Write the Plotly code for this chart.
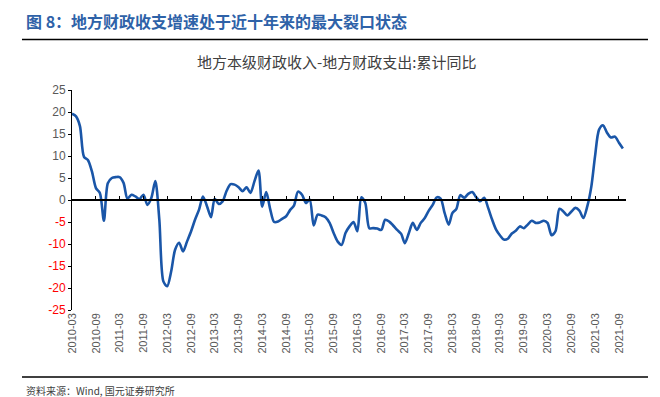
import pandas as pd
import plotly.graph_objects as go

start_month = "2010-03-01"
values = [
    19.6, 19.0, 16.8, 9.8, 9.1, 6.5, 2.7, 1.6, -4.7, 3.8,
    5.0, 5.2, 5.2, 3.9, 0.3, 1.2, 0.8, 0.2, 1.2, -1.1,
    0.5, 4.3, -4.5, -18.5, -19.6, -16.2, -11.3, -9.7, -11.7, -9.4,
    -7.1, -4.5, -2.2, 0.8, -1.4, -3.9, 0.3, -0.9, -0.3, 2.1,
    3.6, 3.5, 2.9, 2.0, 2.9, 1.6, 4.3, 6.7, -1.5, 1.8,
    -2.0, -5.0, -4.9, -4.3, -3.7, -2.3, -1.2, 1.9, 1.2, -0.7,
    0.1, -5.8, -3.3, -3.5, -3.9, -5.2, -7.5, -9.4, -10.2, -7.5,
    -6.0, -5.0, -7.1, 0.6, -0.7, -6.4, -6.4, -6.5, -6.8, -4.5,
    -4.9, -5.8, -6.8, -7.7, -9.8, -7.5, -5.2, -6.8, -5.2, -4.1,
    -2.4, -1.1, 0.6, 0.3, -3.0, -5.6, -3.0, -2.0, 1.1, 0.5,
    1.4, 1.8, 0.6, -0.3, 0.5, -1.8, -4.5, -6.8, -8.0, -9.0,
    -8.8, -7.6, -7.0, -6.0, -6.4, -5.6, -4.7, -5.2, -5.1, -4.7,
    -5.2, -8.0, -7.1, -2.0, -2.6, -3.5, -2.6, -1.8, -2.4, -4.1,
    -1.4, 3.1, 9.9, 16.0, 17.0, 15.3, 14.2, 14.4, 13.0, 11.7,
]
dates = pd.date_range(start_month, periods=len(values), freq="MS")

y_ticks = [25, 20, 15, 10, 5, 0, -5, -10, -15, -20, -25]
y_tick_text = [
    f'<span style="color:#FF0000">{v}</span>' if v < 0 else f'<span style="color:#595959">{v}</span>'
    for v in y_ticks
]

title_text = "图 8：地方财政收支增速处于近十年来的最大裂口状态"
subtitle_text = "地方本级财政收入-地方财政支出:累计同比"
source_text = "资料来源：Wind, 国元证券研究所"

x_range = ["2010-03-01", "2021-10-25"]

fig = go.Figure()
fig.add_trace(go.Scatter(
    x=dates, y=values, mode="lines",
    line=dict(color="#1A56A8", width=2.6, shape="spline", smoothing=0.8),
    hoverinfo="skip", showlegend=False,
))
# invisible copy to carry the zero-line axis with tick marks
fig.add_trace(go.Scatter(
    x=dates, y=values, mode="lines", xaxis="x2",
    line=dict(color="rgba(0,0,0,0)", width=0),
    hoverinfo="skip", showlegend=False,
))

font_cjk = "Noto Sans CJK SC, Liberation Sans, Arial, sans-serif"

fig.update_layout(
    width=652, height=389,
    margin=dict(l=64, r=34, t=82, b=87),
    paper_bgcolor="white", plot_bgcolor="white",
    font=dict(family=font_cjk, color="#595959"),
    xaxis=dict(
        type="date", range=x_range,
        tick0="2010-03-01", dtick="M6", tickformat="%Y-%m",
        tickangle=-90, showgrid=False, zeroline=False, showline=False,
        ticks="", ticklen=0,
        tickfont=dict(family="Liberation Sans, Arial, sans-serif", size=11, color="#595959"),
    ),
    xaxis2=dict(
        type="date", range=x_range, overlaying="x", anchor="free", position=0.5,
        tick0="2010-03-01", dtick="M6", showticklabels=False,
        showgrid=False, zeroline=False, showline=True, linecolor="black", linewidth=1.5,
        ticks="inside", ticklen=3, tickcolor="black", tickwidth=1,
    ),
    yaxis=dict(
        range=[-25, 25], tickvals=y_ticks, ticktext=y_tick_text,
        showgrid=False, zeroline=False, showline=True, linecolor="black", linewidth=1,
        ticks="outside", ticklen=3, tickcolor="black",
        tickfont=dict(family="Liberation Sans, Arial, sans-serif", size=12),
    ),
    annotations=[
        dict(text=f"<b>{title_text}</b>", xref="paper", yref="paper",
             x=-0.0866, y=1.312, xanchor="left", yanchor="middle", showarrow=False,
             font=dict(family=font_cjk, size=16, color="#2E62A8")),
        dict(text=subtitle_text, xref="paper", yref="paper",
             x=0.478, y=1.130, xanchor="center", yanchor="middle", showarrow=False,
             font=dict(family=font_cjk, size=15, color="#404040")),
        dict(text=source_text, xref="paper", yref="paper",
             x=-0.0866, y=-0.364, xanchor="left", yanchor="middle", showarrow=False,
             font=dict(family=font_cjk, size=10, color="#404040")),
    ],
    shapes=[
        dict(type="line", xref="paper", yref="paper", x0=-0.0903, x1=1.0397, y0=1.230, y1=1.230,
             line=dict(color="black", width=1.5)),
        dict(type="line", xref="paper", yref="paper", x0=-0.0903, x1=1.0397, y0=-0.305, y1=-0.305,
             line=dict(color="black", width=1.5)),
    ],
)

fig.write_html("out.html")
